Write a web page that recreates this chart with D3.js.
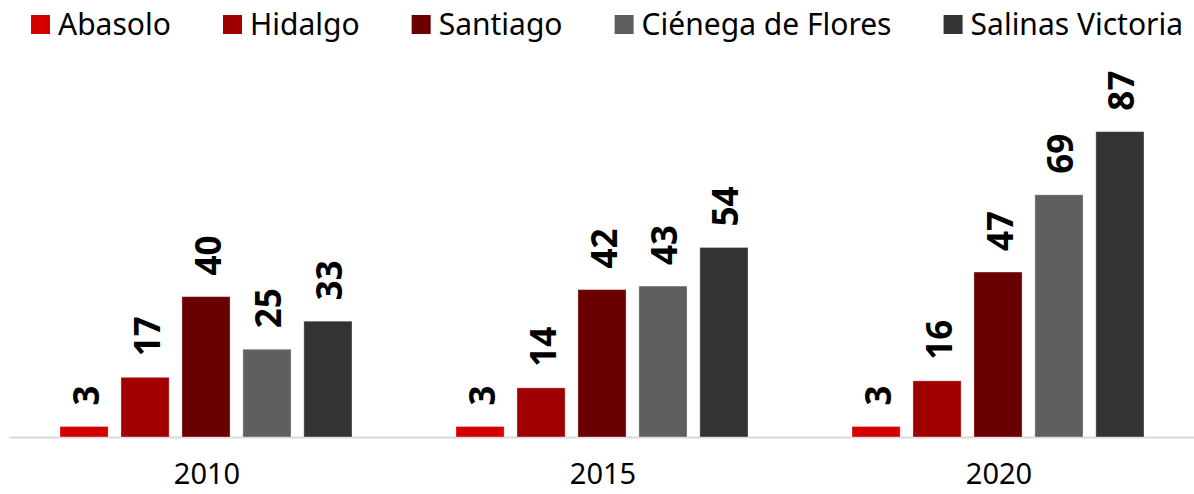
<!DOCTYPE html>
<html>
<head>
<meta charset="utf-8">
<script src="https://cdn.jsdelivr.net/npm/d3@7"></script>
<style>
  body { margin: 0; background: #fff; }
  svg { display: block; font-family: "Noto Sans", sans-serif; }
</style>
</head>
<body>
<div class="canvas"></div>
<script>
// data
const years = ['2010', '2015', '2020'];
const municipios = ['Abasolo', 'Hidalgo', 'Santiago', 'Ciénega de Flores', 'Salinas Victoria'];
const abasolo = [3, 3, 3];
const hidalgo = [17, 14, 16];
const santiago = [40, 42, 47];
const cienega = [25, 43, 69];
const salinas = [33, 54, 87];
const colores = ['#d40000', '#a00000', '#6b0000', '#5f5f5f', '#333333'];

const series = [abasolo, hidalgo, santiago, cienega, salinas];

const dims = { width: 1194, height: 494 };
const base = 437;

const svg = d3.select('.canvas')
  .append('svg')
  .attr('width', dims.width)
  .attr('height', dims.height);

// scales
const x0 = d3.scaleBand().domain(years).range([9, 1197]);
const x1 = d3.scaleBand().domain(municipios).range([51, 343]).paddingInner(0.21);
const y = d3.scaleLinear().domain([0, 100]).range([base, 86]);
const color = d3.scaleOrdinal().domain(municipios).range(colores);

// flat rows for the bars
const rows = [];
years.forEach((yr, i) => {
  municipios.forEach((m, j) => rows.push({ year: yr, name: m, value: series[j][i] }));
});

// axis line + year labels
const xAxis = d3.axisBottom(x0).tickSize(0).tickPadding(0);
const axisG = svg.append('g')
  .attr('transform', `translate(0, ${base})`)
  .call(xAxis);
axisG.select('.domain').attr('stroke', '#d9d9d9').attr('stroke-width', 2);
axisG.selectAll('text')
  .attr('y', 47)
  .attr('dy', 0)
  .attr('fill', '#000')
  .style('font-size', '29px')
  .style('font-family', '"Noto Sans", sans-serif');

// bars
const groups = svg.selectAll('g.year')
  .data(years)
  .enter().append('g')
  .attr('class', 'year')
  .attr('transform', d => `translate(${x0(d)}, 0)`);

groups.selectAll('rect')
  .data(yr => rows.filter(r => r.year === yr))
  .enter().append('rect')
  .attr('x', d => x1(d.name))
  .attr('width', x1.bandwidth())
  .attr('y', d => y(d.value))
  .attr('height', d => base - y(d.value))
  .attr('fill', d => color(d.name))
  .attr('stroke', 'rgba(255,255,255,0.35)')
  .attr('stroke-width', 1);

// rotated value labels
groups.selectAll('text.val')
  .data(yr => rows.filter(r => r.year === yr))
  .enter().append('text')
  .attr('class', 'val')
  .attr('transform', d => `translate(${x1(d.name) + x1.bandwidth() / 2 + 1}, ${y(d.value) - 21}) rotate(-90)`)
  .attr('dominant-baseline', 'central')
  .attr('text-anchor', 'start')
  .style('font-size', '35px')
  .style('font-weight', 'bold')
  .attr('fill', '#000')
  .text(d => d.value);

// legend, spread across the top
const legend = svg.append('g').attr('class', 'legend');
const items = legend.selectAll('g')
  .data(municipios)
  .enter().append('g');

items.append('rect')
  .attr('width', 19)
  .attr('height', 19)
  .attr('y', 15)
  .attr('fill', d => color(d));

items.append('text')
  .attr('x', 27)
  .attr('y', 35)
  .style('font-size', '30px')
  .attr('fill', '#000')
  .text(d => d);

const widths = [];
items.each(function () { widths.push(27 + d3.select(this).select('text').node().getComputedTextLength()); });
const left = 31, right = 1183;
const gap = (right - left - d3.sum(widths)) / (widths.length - 1);
let pos = left;
items.attr('transform', (d, i) => {
  const t = `translate(${pos}, 0)`;
  pos += widths[i] + gap;
  return t;
});
</script>
</body>
</html>
